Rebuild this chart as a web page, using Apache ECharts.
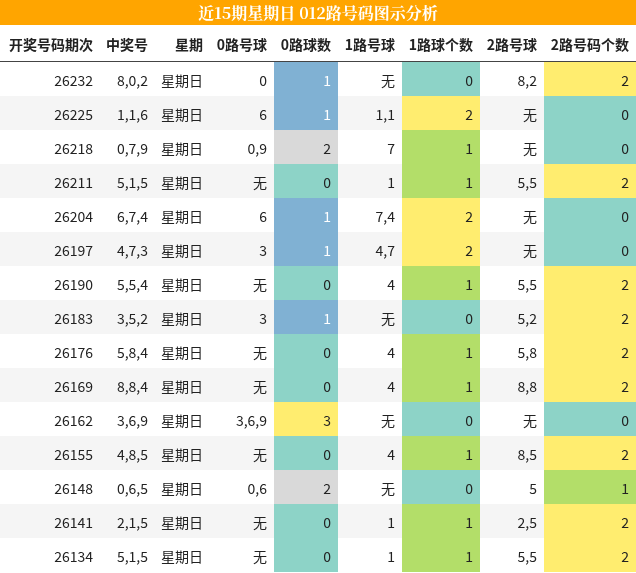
<!DOCTYPE html>
<html><head><meta charset="utf-8">
<script src="https://cdn.jsdelivr.net/npm/echarts@6/dist/echarts.min.js"></script>
<style>html,body{margin:0;padding:0;background:#fff}#c{width:636px;height:573px}</style>
</head><body><div id="c"></div>
<script>
const title = '近15期星期日 012路号码图示分析';
const headers = ['开奖号码期次','中奖号','星期','0路号球','0路球数','1路号球','1路球个数','2路号球','2路号码个数'];
const issues = ['26232','26225','26218','26211','26204','26197','26190','26183','26176','26169','26162','26155','26148','26141','26134'];
const winning = ['8,0,2','1,1,6','0,7,9','5,1,5','6,7,4','4,7,3','5,5,4','3,5,2','5,8,4','8,8,4','3,6,9','4,8,5','0,6,5','2,1,5','5,1,5'];
const weekday = ['星期日','星期日','星期日','星期日','星期日','星期日','星期日','星期日','星期日','星期日','星期日','星期日','星期日','星期日','星期日'];
const road0 = ['0','6','0,9','无','6','3','无','3','无','无','3,6,9','无','0,6','无','无'];
const road0n = [1,1,2,0,1,1,0,1,0,0,3,0,2,0,0];
const road1 = ['无','1,1','7','1','7,4','4,7','4','无','4','4','无','4','无','1','1'];
const road1n = [0,2,1,1,2,2,1,0,1,1,0,1,0,1,1];
const road2 = ['8,2','无','无','5,5','无','无','5,5','5,2','5,8','8,8','无','8,5','5','2,5','5,5'];
const road2n = [2,0,0,2,0,0,2,2,2,2,0,2,1,2,2];

const edges = [0,100,155,210,274,338,402,480,544,636];
const C0 = {0:'#8dd3c7',1:'#80b1d3',2:'#d9d9d9',3:'#ffed6f'};
const C12 = {0:'#8dd3c7',1:'#b3de69',2:'#ffed6f',3:'#ffed6f'};

const cells = [];
for (let r=0;r<issues.length;r++){
  const row=[issues[r],winning[r],weekday[r],road0[r],String(road0n[r]),road1[r],String(road1n[r]),road2[r],String(road2n[r])];
  row.forEach((t,c)=>{
    let fill = r%2===0 ? '#ffffff' : '#f5f5f5', color='#222';
    if(c===4){fill=C0[road0n[r]]; if(road0n[r]===1) color='#fff';}
    if(c===6) fill=C12[road1n[r]];
    if(c===8) fill=C12[road2n[r]];
    cells.push({value:[c,r,t],fill,color});
  });
}
const chart = echarts.init(document.getElementById('c'));
const font = '"Noto Sans CJK SC","Noto Sans",sans-serif';
chart.setOption({
  animation:false,
  grid:{left:0,right:0,top:62,bottom:1},
  xAxis:{type:'value',min:0,max:9,show:false},
  yAxis:{type:'value',min:0,max:15,inverse:true,show:false},
  graphic:[
    {type:'rect',shape:{x:0,y:0,width:636,height:25},style:{fill:'#ffa500'}},
    {type:'text',x:318,y:13,style:{text:title,fill:'#fff',font:'bold 16px "Noto Serif CJK SC","Noto Sans CJK SC",serif',align:'center',verticalAlign:'middle'}},
    ...headers.map((h,i)=>({type:'text',x:edges[i+1]-7,y:45,style:{text:h,fill:'#222',font:'bold 14px '+font,align:'right',verticalAlign:'middle'}})),
    {type:'line',shape:{x1:0,y1:61.5,x2:636,y2:61.5},style:{stroke:'#444',lineWidth:1}}
  ],
  series:[{
    type:'custom',
    data:cells.map(d=>d.value),
    renderItem:(p,api)=>{
      const c=api.value(0), r=api.value(1), d=cells[p.dataIndex];
      const y0=api.coord([0,r])[1], y1=api.coord([0,r+1])[1];
      const x0=edges[c], x1=edges[c+1];
      return {type:'group',children:[
        {type:'rect',shape:{x:x0,y:y0,width:x1-x0,height:y1-y0},style:{fill:d.fill}},
        {type:'text',x:x1-7,y:(y0+y1)/2+2,style:{text:d.value[2],fill:d.color,font:'14px '+font,align:'right',verticalAlign:'middle'}}
      ]};
    }
  }]
});
</script></body></html>
